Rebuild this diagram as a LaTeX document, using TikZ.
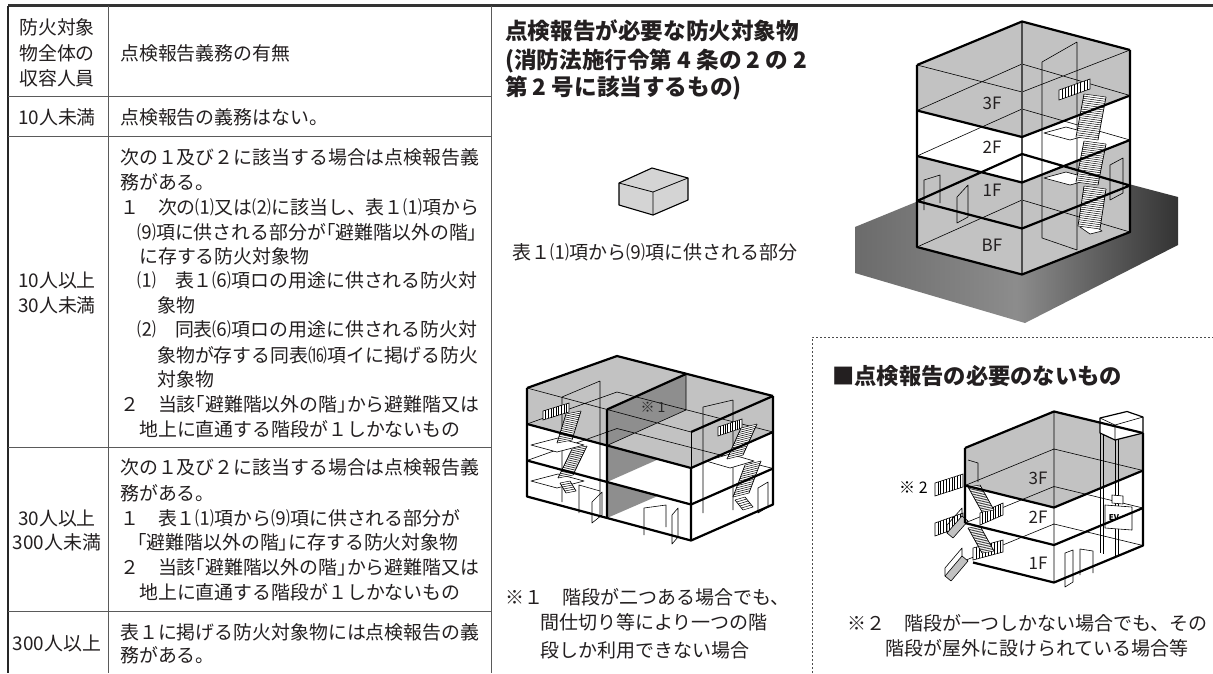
\documentclass[tikz,border=0pt]{standalone}
\usepackage{fontspec}
\setmainfont{Noto Sans CJK JP}
\usetikzlibrary{calc}
\definecolor{lg}{HTML}{C2C2C2}
\definecolor{dg}{HTML}{8E8E8E}
\definecolor{ink}{HTML}{231F20}
\definecolor{rule}{HTML}{5A5A5A}
\newcommand{\flight}[7]{%
  \fill[white] (#1,#2) -- (#3,#4) -- ($(#3,#4)+(#5,#6)$) -- ($(#1,#2)+(#5,#6)$) -- cycle;
  \foreach \k in {0,...,#7}{\pgfmathsetmacro\fr{\k/#7}\draw[line width=0.5pt] ($(#1,#2)!\fr!(#3,#4)$) -- ++(#5,#6);}
  \draw[line width=0.7pt] (#1,#2) -- (#3,#4) ($(#1,#2)+(#5,#6)$) -- ($(#3,#4)+(#5,#6)$);
}
\newcommand{\railing}[6]{%
  \filldraw[fill=white,line width=0.6pt] (#1,#2) -- (#3,#4) -- ($(#3,#4)+(0,#5)$) -- ($(#1,#2)+(0,#5)$) -- cycle;
  \foreach \k in {1,...,#6}{\pgfmathsetmacro\fr{\k/(#6+1)}\draw[line width=0.5pt] ($(#1,#2)!\fr!(#3,#4)$) -- ++(0,#5);}
}
\begin{document}
\begin{tikzpicture}[x=1pt,y=-1pt,
  tx/.style={anchor=base west,inner sep=0pt,font=\fontsize{18.9}{20}\selectfont,yshift=-7.2pt,text=ink},
  txc/.style={tx,anchor=base},
  hd/.style={anchor=base west,inner sep=0pt,font=\fontsize{22.6}{24}\selectfont\bfseries,yshift=-8.6pt,text=ink},
  captx/.style={anchor=base west,inner sep=0pt,font=\fontsize{19}{20}\selectfont,yshift=-7.2pt,text=ink},
  fl/.style={anchor=base,inner sep=0pt,font=\fontsize{17}{18}\selectfont,yshift=-6.1pt,text=ink},
  thk/.style={line width=2.2pt,line join=round},
  med/.style={line width=1.2pt,line join=round},
  thn/.style={line width=0.6pt,line join=round},
  rul/.style={line width=1pt,draw=rule},
]
\useasboundingbox (0,0) rectangle (1213,673);
\fill[white] (0,0) rectangle (1213,673);

% ---------- table ----------
\draw[line width=2.2pt,black!80] (8,5.5) -- (1213,5.5);
\draw[line width=2.4pt,black!85] (8,5.5) -- (8,673);
\draw[rul] (108,5.5) -- (108,673) (491,5.5) -- (491,673);
\draw[rul] (8,96) -- (491,96) (8,136) -- (491,136) (8,447) -- (491,447) (8,611) -- (491,611);

\node[txc] (a1) at (57,27) {防火対象};
\node[txc] (a2) at (57,53) {物全体の};
\node[txc] (a3) at (57,78) {収容人員};
\node[txc] (a4) at (57,117) {10人未満};
\node[txc] (a5) at (57,280) {10人以上};
\node[txc] (a6) at (57,305) {30人未満};
\node[txc] (a7) at (57,518) {30人以上};
\node[txc] (a8) at (57,542) {300人未満};
\node[txc] (a9) at (57,643) {300人以上};

\node[tx] (b1) at (120,53) {点検報告義務の有無};
\node[tx] (b2) at (120,117) {点検報告の義務はない。};

\node[tx] (c1) at (120,157) {次の１及び２に該当する場合は点検報告義};
\node[tx] (c2) at (120,182) {務がある。};
\node[tx] (c3) at (120,207) {１　次の⑴又は⑵に該当し、表１⑴項から};
\node[tx] (c4) at (137,232) {⑼項に供される部分が｢避難階以外の階｣};
\node[tx] (c5) at (139,256) {に存する防火対象物};
\node[tx] (c6) at (137,280) {⑴　表１⑹項ロの用途に供される防火対};
\node[tx] (c7) at (157,305) {象物};
\node[tx] (c8) at (137,329) {⑵　同表⑹項ロの用途に供される防火対};
\node[tx] (c9) at (157,355) {象物が存する同表⒃項イに掲げる防火};
\node[tx] (c10) at (157,379) {対象物};
\node[tx] (c11) at (120,404) {２　当該｢避難階以外の階｣から避難階又は};
\node[tx] (c12) at (139,429) {地上に直通する階段が１しかないもの};

\node[tx] (d1) at (120,467) {次の１及び２に該当する場合は点検報告義};
\node[tx] (d2) at (120,493) {務がある。};
\node[tx] (d3) at (120,518) {１　表１⑴項から⑼項に供される部分が};
\node[tx] (d4) at (137,542) {｢避難階以外の階｣に存する防火対象物};
\node[tx] (d5) at (120,567) {２　当該｢避難階以外の階｣から避難階又は};
\node[tx] (d6) at (139,592) {地上に直通する階段が１しかないもの};

\node[tx] (e1) at (120,632) {表１に掲げる防火対象物には点検報告の義};
\node[tx] (e2) at (120,655) {務がある。};

% ---------- middle top ----------
\node[hd] (h1) at (505,31) {点検報告が必要な防火対象物};
\node[hd] (h2) at (505,60) {(消防法施行令第 4 条の 2 の 2};
\node[hd] (h3) at (505,87) {第 2 号に該当するもの)};
\filldraw[fill=black!17,line width=1.1pt,line join=round] (619,183)--(652,168)--(688,178)--(688,200)--(653,215)--(619,205)--cycle;
\draw[line width=0.8pt] (619,183)--(653,192)--(688,178) (653,192)--(653,215);
\node[captx] (cb) at (512,252) {表１⑴項から⑼項に供される部分};

% ---------- building 1 (top right) ----------
\shade[left color=black!58,right color=black!80,middle color=black!45] (855,227) -- (1026,157) -- (1178,197) -- (1178,245) -- (1025,323) -- (855,273) -- cycle;
\foreach \n/\yl/\yf/\yr/\yb in {0/65/92/50/21.5,1/110.5/137/95.5/64,2/156/182.5/140/109,3/201/228.5/185.5/154,4/247/274.5/232/200}{
  \coordinate (aL\n) at (917,\yl); \coordinate (aF\n) at (1022,\yf);
  \coordinate (aR\n) at (1130,\yr); \coordinate (aB\n) at (1022,\yb);}
\fill[white] (aL0)--(aB0)--(aR0)--(aR4)--(aF4)--(aL4)--cycle;
\fill[lg] (aL0)--(aB0)--(aR0)--(aR1)--(aF1)--(aL1)--cycle;
\fill[lg] (aL2)--(aF2)--(aR2)--(aR4)--(aF4)--(aL4)--cycle;
\draw[thn] (aL0)--(aF0)--(aR0) (aL1)--(aB1)--(aR1) (aL2)--(aB2)--(aR2) (aL4)--(aB4)--(aR4);
\draw[thn] (1042,62)--(1042,238) (1077,42)--(1077,250) (1042,62)--(1077,42) (1042,238)--(1077,250);
\draw[thn,fill=white] (1044,133)--(1066,127)--(1092,134)--(1070,140)--cycle;
\draw[thn,fill=white] (1044,178)--(1066,172)--(1092,179)--(1070,185)--cycle;
\draw[thn,fill=white] (1080,227)--(1092,224)--(1102,231)--(1090,234)--cycle;
\railing{1059}{90}{1090}{79}{10}{9}
\flight{1084}{94}{1076}{137}{22}{3}{20}
\flight{1084}{141}{1076}{182}{22}{3}{20}
\flight{1084}{186}{1078}{226}{22}{3}{19}
\draw[thn] (924,210)--(924,180)--(940,175)--(940,203);
\draw[thn] (957,197)--(968,185)--(968,217)--(957,223)--cycle;
\draw[thn] (1110,200)--(1110,165)--(1123,158)--(1123,193)--cycle;
\draw[med,black!70] (aB0)--(aF4);
\draw[thk] (aL0)--(aB0)--(aR0) (aR0)--(aR4)--(aF4)--(aL4)--(aL0);
\draw[thk] (aL1)--(aF1)--(aR1) (aL2)--(aF2)--(aR2) (aL3)--(aB3)--(aR3)--(aF3)--cycle;
\node[fl] (f3a) at (992,103) {3F};
\node[fl] (f2a) at (992,147) {2F};
\node[fl] (f1a) at (992,190) {1F};
\node[fl] (fba) at (992,245) {BF};

% ---------- building 2 (middle bottom) ----------
\foreach \n/\d in {0/0,1/36,2/72.5,3/108.5}{
  \coordinate (bL\n) at (527,388+\d); \coordinate (bF\n) at (691,432+\d);
  \coordinate (bR\n) at (773,396+\d); \coordinate (bB\n) at (617,356+\d);
  \coordinate (bP\n) at (607,409.5+\d);}
\coordinate (bQ0) at (686,374); \coordinate (bQ1) at (686,410);
\fill[white] (bL0)--(bB0)--(bR0)--(bR3)--(bF3)--(bL3)--cycle;
\fill[lg] (bL0)--(bB0)--(bR0)--(bR1)--(bF1)--(bL1)--cycle;
\fill[dg] (bP0)--(bQ0)--(bQ1)--(bP1)--cycle;
\fill[dg] (bP1)--(bP2)--(660,458.5)--cycle;
\fill[dg] (bP2)--(bP3)--(660,495)--cycle;
\draw[thn] (bL0)--(bF0) (bL1)--(bB1)--(bR1) (bL2)--(bB2)--(bR2) (bQ0)--(bQ1)--(bP1);
\draw[thn] (562,397)--(562,502) (600,381)--(600,515) (562,397)--(600,381);
\draw[thn] (703,407)--(703,513) (733,400)--(733,510) (703,407)--(733,400);
\draw[thn,fill=white] (531,445)--(558,438)--(584,445)--(557,452)--cycle;
\draw[thn,fill=white] (531,481)--(558,474)--(584,481)--(557,488)--cycle;
\draw[thn,fill=white] (706,461)--(730,454)--(754,461)--(730,468)--cycle;
\railing{543}{411}{569}{403}{9}{9}
\flight{566}{414}{557}{443}{15}{-3}{14}
\flight{572}{449}{558}{478}{15}{-3}{14}
\flight{560}{483}{566}{493}{10}{-2}{5}
\railing{718}{427}{742}{419}{9}{9}
\flight{741}{428}{727}{459}{16}{-4}{14}
\flight{745}{465}{733}{497}{16}{-4}{14}
\flight{735}{500}{743}{510}{10}{-3}{5}
\draw[thn] (579,513)--(579,485)--(600,491);
\draw[thn] (592,523)--(592,502)--(602,492)--(602,515)--cycle;
\draw[thn] (644,535)--(644,508)--(666,505)--(666,527);
\draw[thn] (672,544)--(672,515)--(678,508)--(678,537)--cycle;
\draw[thn] (758,513)--(758,488)--(768,482)--(768,507)--cycle;
\draw[thn] (bF0)--(bF1);
\draw[thk] (bL0)--(bB0)--(bR0) (bR0)--(bR3)--(bF3)--(bL3)--(bL0);
\draw[thk] (bF0)--(bR0) (bP0)--(bQ0) (bP0)--(bP3) (bF1)--(bF3);
\draw[thk] (bL1)--(bF1)--(bR1) (bL2)--(bF2)--(bR2);
\node[anchor=base,inner sep=0pt,font=\fontsize{14}{15}\selectfont,yshift=-5pt,text=black!85] (s1) at (653,407) {※ 1};
\node[captx] (m1) at (505,597) {※１　階段が二つある場合でも、};
\node[captx] (m2) at (540,622) {間仕切り等により一つの階};
\node[captx] (m3) at (540,650) {段しか利用できない場合};

% ---------- dashed frame ----------
\draw[line width=0.7pt,black!70,dash pattern=on 2.2pt off 1.8pt] (812,673) -- (812,337) -- (1213,337);
\node[hd,font=\fontsize{22.3}{24}\selectfont\bfseries,yshift=-8.5pt] (h4) at (832,367) {■点検報告の必要のないもの};

% ---------- building 3 (bottom right) ----------
\foreach \n/\d in {0/0,1/37.5,2/75,3/112.5}{
  \coordinate (cL\n) at (965,448+\d); \coordinate (cF\n) at (1054,470+\d);
  \coordinate (cR\n) at (1143,433+\d); \coordinate (cB\n) at (1054,411.5+\d);}
\fill[white] (cL0)--(cB0)--(cR0)--(cR3)--(cF3)--(cL3)--cycle;
\fill[lg] (cL0)--(cB0)--(cR0)--(cR1)--(cF1)--(cL1)--cycle;
\draw[thn] (cB0)--(cF3) (cL1)--(cB1)--(cR1) (cL2)--(cB2)--(cR2) (cL3)--(cB3)--(cR3);
\draw[thn] (968,460)--(978,463)--(978,482);
% EV shaft
\draw[thn] (1100,433)--(1100,553) (1103.5,434)--(1103.5,554) (1115,440)--(1115,557) (1118.5,439)--(1118.5,557);
\draw[thn,fill=white] (1105,505)--(1132,507)--(1132,530)--(1105,528)--cycle;
\draw[thn,fill=white] (1112,495)--(1123,496)--(1123,504)--(1112,503)--cycle;
\node[inner sep=0pt,font=\fontsize{8}{9}\selectfont\bfseries] (ev) at (1114,518) {EV};
\filldraw[fill=white,med] (1100,418)--(1127,411.5)--(1143,417)--(1143,433)--(1115,440)--(1100,433)--cycle;
\draw[thn] (1100,418)--(1115,425)--(1143,417) (1115,425)--(1115,440);
% outside stairs
\railing{935}{483}{963}{474}{13}{9}
\railing{935}{523}{963}{513}{13}{9}
\railing{980}{513}{1003}{503}{12}{8}
\railing{973}{548}{1003}{540}{12}{9}
\flight{968}{487}{982}{512}{12}{-2}{16}
\flight{968}{528}{982}{553}{12}{-2}{16}
\draw[thn,fill=lg] (947,533)--(962,516)--(968,521)--(953,538)--cycle;
\draw[thn,fill=lg] (945,576)--(962,556)--(968,561)--(951,581)--cycle;
\draw[thn] (947,533)--(947,525)--(962,508)--(962,516) (945,576)--(945,568)--(962,548)--(962,556);
\draw[thn] (1073,582)--(1073,550)--(1065,553)--(1065,587)--cycle;
\draw[thn] (1080,575)--(1080,549)--(1093,551)--(1093,573);
\draw[thk] (cL0)--(cB0)--(cR0) (cR0)--(cR3)--(cF3)--(973,562.5) (cL0)--(cL2);
\draw[thk] (cL1)--(cF1)--(cR1) (cL2)--(cF2)--(cR2);
\node[fl] (f3c) at (1038,478) {3F};
\node[fl] (f2c) at (1038,517) {2F};
\node[fl] (f1c) at (1038,563) {1F};
\node[anchor=west,inner sep=0pt,font=\fontsize{16}{17}\selectfont] (s2) at (899,488) {※ 2};
\node[captx] (r1) at (847,623) {※２　階段が一つしかない場合でも、その};
\node[captx] (r2) at (885,648) {階段が屋外に設けられている場合等};
\end{tikzpicture}
\end{document}
